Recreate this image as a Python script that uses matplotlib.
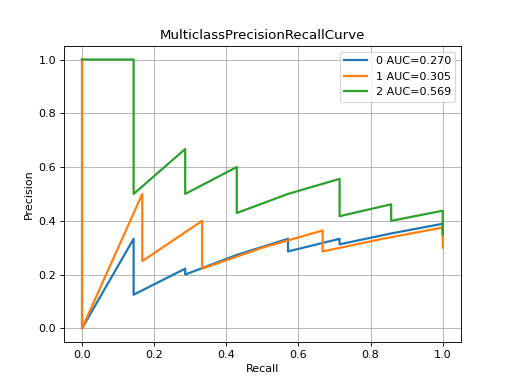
import matplotlib
matplotlib.use("Agg")
import matplotlib.pyplot as plt

# class 0
recall_0 = [1.0, 1.0, 0.857, 0.714, 0.714, 0.571, 0.571, 0.429, 0.286, 0.286, 0.143, 0.143, 0.0, 0.0]
precision_0 = [0.35, 0.389, 0.353, 0.3125, 0.333, 0.286, 0.333, 0.273, 0.2, 0.222, 0.125, 0.333, 0.0, 1.0]
# class 1
recall_1 = [1.0, 1.0, 0.833, 0.667, 0.667, 0.5, 0.333, 0.333, 0.167, 0.167, 0.0, 0.0]
precision_1 = [0.3, 0.375, 0.333, 0.286, 0.364, 0.3, 0.222, 0.4, 0.25, 0.5, 0.0, 1.0]
# class 2
recall_2 = [1.0, 1.0, 0.857, 0.857, 0.714, 0.714, 0.571, 0.429, 0.429, 0.286, 0.286, 0.143, 0.143, 0.0]
precision_2 = [0.35, 0.4375, 0.4, 0.4615, 0.417, 0.556, 0.5, 0.429, 0.6, 0.5, 0.667, 0.5, 1.0, 1.0]

labels = ["0 AUC=0.270", "1 AUC=0.305", "2 AUC=0.569"]


def main():
    fig, ax = plt.subplots(figsize=(6.4, 4.8), dpi=80)
    ax.plot(recall_0, precision_0, linewidth=2, label=labels[0])
    ax.plot(recall_1, precision_1, linewidth=2, label=labels[1])
    ax.plot(recall_2, precision_2, linewidth=2, label=labels[2])
    ax.set_xlabel("Recall")
    ax.set_ylabel("Precision")
    ax.set_title("MulticlassPrecisionRecallCurve")
    ax.grid(True)
    ax.legend(loc="upper right")
    fig.savefig("out.png")


main()
